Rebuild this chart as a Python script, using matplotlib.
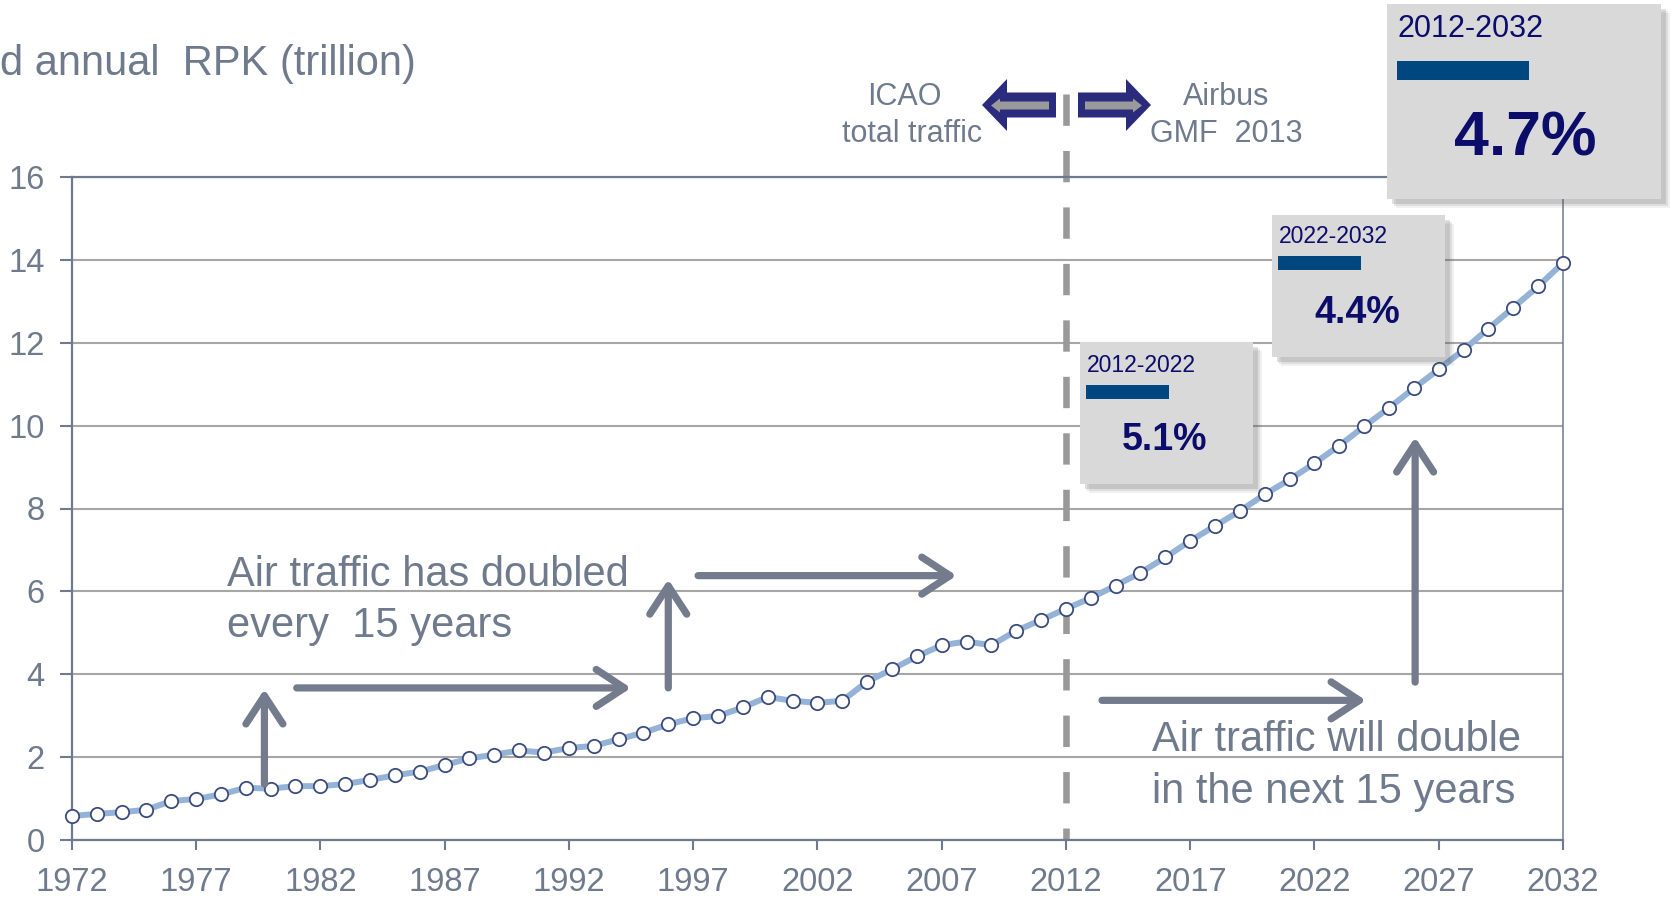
import matplotlib.pyplot as plt
import matplotlib.transforms as mtransforms
from matplotlib.patches import Rectangle, FancyArrow

plt.rcParams['font.family'] = ['Liberation Sans', 'DejaVu Sans']

# donnees (RPK annuel, trillions)
years = list(range(1972, 2033))
rpk = [0.58, 0.63, 0.67, 0.73, 0.94, 0.99, 1.10, 1.26, 1.24, 1.30,
       1.30, 1.35, 1.45, 1.56, 1.65, 1.81, 1.97, 2.06, 2.16, 2.11,
       2.22, 2.27, 2.43, 2.59, 2.79, 2.94, 2.99, 3.20, 3.45, 3.36,
       3.31, 3.36, 3.82, 4.12, 4.43, 4.70, 4.79, 4.70, 5.05, 5.31,
       5.58, 5.84, 6.14, 6.45, 6.82, 7.22, 7.58, 7.94, 8.34, 8.70,
       9.09, 9.52, 9.98, 10.43, 10.90, 11.36, 11.83, 12.34, 12.85, 13.36,
       13.93]
x_ticks = list(range(1972, 2033, 5))
y_ticks = list(range(0, 17, 2))
periods = ["2012-2022", "2022-2032", "2012-2032"]
growth = ["5.1%", "4.4%", "4.7%"]

grey = '#6f7a8c'
navy = '#0c0c6a'
barblue = '#00467f'

W, H = 1677, 898
fig = plt.figure(figsize=(W / 100, H / 100), dpi=100)
# coordonnees en pixels (y vers le bas) pour les decorations
px = mtransforms.Affine2D().scale(1 / W, -1 / H).translate(0, 1) + fig.transFigure

ax = fig.add_axes([71.8 / W, 1 - 840 / H, (1563 - 71.8) / W, (840 - 177) / H])
ax.set_xlim(1972, 2032)
ax.set_ylim(0, 16)
ax.set_xticks(x_ticks)
ax.set_yticks(y_ticks)
ax.grid(axis='y', color='#a6a6a6', lw=1.5)
ax.set_axisbelow(True)
ax.tick_params(axis='x', length=7.2, width=1.5, colors=grey, labelsize=23.5, pad=12)
ax.tick_params(axis='y', length=8.6, width=1.5, colors=grey, labelsize=23.5, pad=11)
for side in ['left', 'bottom', 'top']:
    ax.spines[side].set_color(grey)
    ax.spines[side].set_linewidth(1.6)
ax.spines['right'].set_color(grey)
ax.spines['right'].set_linewidth(1.1)

# ligne de separation ICAO / Airbus
ax.plot([2012, 2012], [18.0, 0], color='#999999', lw=4.7, ls=(0, (4.8, 3.85)),
        clip_on=False, zorder=2)

ax.plot(years, rpk, color='#95b3d7', lw=4.3, marker='o', ms=9.6, mfc='white',
        mec='#3c4c7e', mew=1.3, zorder=3, clip_on=False)

# fleches "doublement"
fleches = [((1979.75, 1.35), (1979.75, 3.64)),
           ((1981.05, 3.67), (1994.5, 3.67)),
           ((1996.0, 3.67), (1996.0, 6.29)),
           ((1997.2, 6.38), (2007.6, 6.38)),
           ((2013.45, 3.37), (2024.07, 3.37)),
           ((2026.05, 3.81), (2026.05, 9.72))]
for tail, tip in fleches:
    ax.annotate('', xy=tip, xytext=tail,
                arrowprops=dict(arrowstyle='->,head_length=1.45,head_width=0.95',
                                lw=5.2, color='#737b8c', shrinkA=0, shrinkB=0,
                                mutation_scale=14))

# textes
fig.text(0, 75, "d annual  RPK (trillion)", transform=px, fontsize=30, color=grey,
         va='baseline', ha='left')
fig.text(227, 586, "Air traffic has doubled", transform=px, fontsize=30, color=grey,
         va='baseline')
fig.text(227, 637, "every  15 years", transform=px, fontsize=30, color=grey,
         va='baseline')
fig.text(1152, 751, "Air traffic will double", transform=px, fontsize=30, color=grey,
         va='baseline')
fig.text(1152, 803, "in the next 15 years", transform=px, fontsize=30, color=grey,
         va='baseline')
fig.text(904, 105, "ICAO", transform=px, fontsize=22, color=grey, ha='center', va='baseline')
fig.text(912, 142, "total traffic", transform=px, fontsize=22, color=grey, ha='center', va='baseline')
fig.text(1226, 105, "Airbus", transform=px, fontsize=22, color=grey, ha='center', va='baseline')
fig.text(1226, 142, "GMF  2013", transform=px, fontsize=22, color=grey, ha='center', va='baseline')

# fleches bloc en haut
for tail, tip, itail, itip in [(1056, 982, 1049, 991), (1078, 1151, 1085, 1142)]:
    fig.add_artist(FancyArrow(tail, 105, tip - tail, 0, width=25, head_width=52,
                              head_length=25, length_includes_head=True,
                              transform=px, color='#2b2b7e', lw=0))
    fig.add_artist(FancyArrow(itail, 105.5, itip - itail, 0, width=8, head_width=14,
                              head_length=9, length_includes_head=True,
                              transform=px, color='#9a9a9a', lw=0))

# encadres de croissance
cadres = [(1080, 342, 173, 142, 1087, 372, 16.5, (1086, 385, 83, 14), 1165, 450, 27),
          (1272, 215, 173, 142, 1279, 243, 16.5, (1278, 256, 83, 14), 1357, 323, 27),
          (1387, 4, 274, 195, 1398, 37, 22, (1397, 61, 132, 19), 1525, 155, 45)]
for (x0, y0, w, h, tx, ty, ts, bar, vx, vy, vs), per, val in zip(cadres, periods, growth):
    for k, a in [(9, 0.08), (7, 0.12), (5, 0.18)]:
        fig.add_artist(Rectangle((x0 + k, y0 + k), w, h, transform=px,
                                 facecolor='#555555', alpha=a, lw=0))
    fig.add_artist(Rectangle((x0, y0), w, h, transform=px, facecolor='#d9d9d9', lw=0))
    fig.add_artist(Rectangle(bar[:2], bar[2], bar[3], transform=px, facecolor=barblue, lw=0))
    fig.text(tx, ty, per, transform=px, fontsize=ts, color=navy, va='baseline')
    fig.text(vx, vy, val, transform=px, fontsize=vs, color=navy, fontweight='bold',
             ha='center', va='baseline')

plt.savefig('out.png', dpi=100)
